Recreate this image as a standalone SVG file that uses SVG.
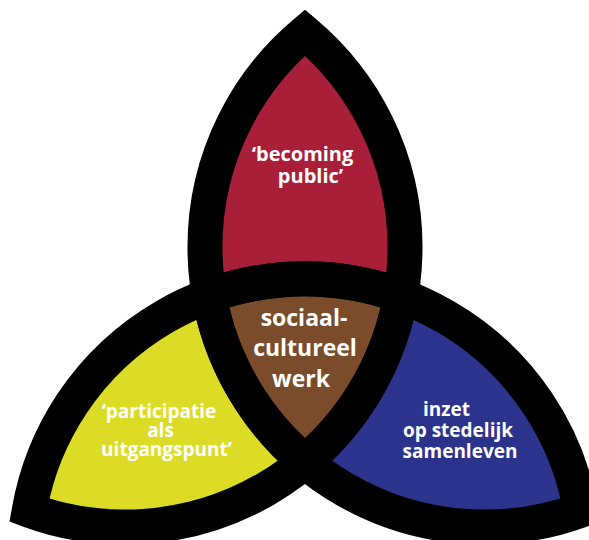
<svg xmlns="http://www.w3.org/2000/svg" width="589" height="540" viewBox="0 0 589 540">
  <style>
    .band { fill: none; stroke: #000; stroke-width: 35; stroke-linejoin: miter; stroke-miterlimit: 10; }
    .lbl { fill: #fff; font-family: "Open Sans", "DejaVu Sans", sans-serif; font-weight: bold; text-anchor: middle; }
    .s20 { font-size: 20px; }
    .s19 { font-size: 19px; }
    .s23 { font-size: 23px; }
  </style>
  <rect width="589" height="540" fill="#fff"/>
  <g id="node-becoming-public">
    <path fill="#A91F3A" d="M305,32.6 A280,280 0 0 0 209.2,295.7 A280,280 0 0 1 400.8,295.7 A280,280 0 0 0 305,32.6 Z"/>
  </g>
  <g id="node-participatie">
    <path fill="#DCDC26" d="M29.3,510.2 A280,280 0 0 1 209.2,295.7 A280,280 0 0 0 305,461.6 A280,280 0 0 1 29.3,510.2 Z"/>
  </g>
  <g id="node-stedelijk">
    <path fill="#2B338D" d="M580.7,510.2 A280,280 0 0 0 400.8,295.7 A280,280 0 0 1 305,461.6 A280,280 0 0 0 580.7,510.2 Z"/>
  </g>
  <g id="node-sociaal-cultureel">
    <path fill="#7A4C2B" d="M209.2,295.7 A280,280 0 0 1 400.8,295.7 A280,280 0 0 1 305,461.6 A280,280 0 0 1 209.2,295.7 Z"/>
  </g>
  <g id="connectors">
    <path class="band" d="M305,32.6 A280,280 0 0 0 305,461.6 A280,280 0 0 0 305,32.6 Z"/>
    <path class="band" d="M29.3,510.2 A280,280 0 0 1 400.8,295.7 A280,280 0 0 1 29.3,510.2 Z"/>
    <path class="band" d="M580.7,510.2 A280,280 0 0 0 209.2,295.7 A280,280 0 0 0 580.7,510.2 Z"/>
  </g>
  <g id="labels">
    <text class="lbl s20" x="302.5" y="160.5">‘becoming</text>
    <text class="lbl s20" x="310.5" y="182.5">public’</text>
    <text class="lbl s23" x="304" y="326">sociaal-</text>
    <text class="lbl s23" x="305" y="356">cultureel</text>
    <text class="lbl s23" x="301" y="387">werk</text>
    <text class="lbl s19" x="159" y="418">‘participatie</text>
    <text class="lbl s19" x="160.5" y="437">als</text>
    <text class="lbl s19" x="166.5" y="456">uitgangspunt’</text>
    <text class="lbl s19" x="446.5" y="416">inzet</text>
    <text class="lbl s19" x="458" y="437">op stedelijk</text>
    <text class="lbl s19" x="460" y="458">samenleven</text>
  </g>
</svg>
